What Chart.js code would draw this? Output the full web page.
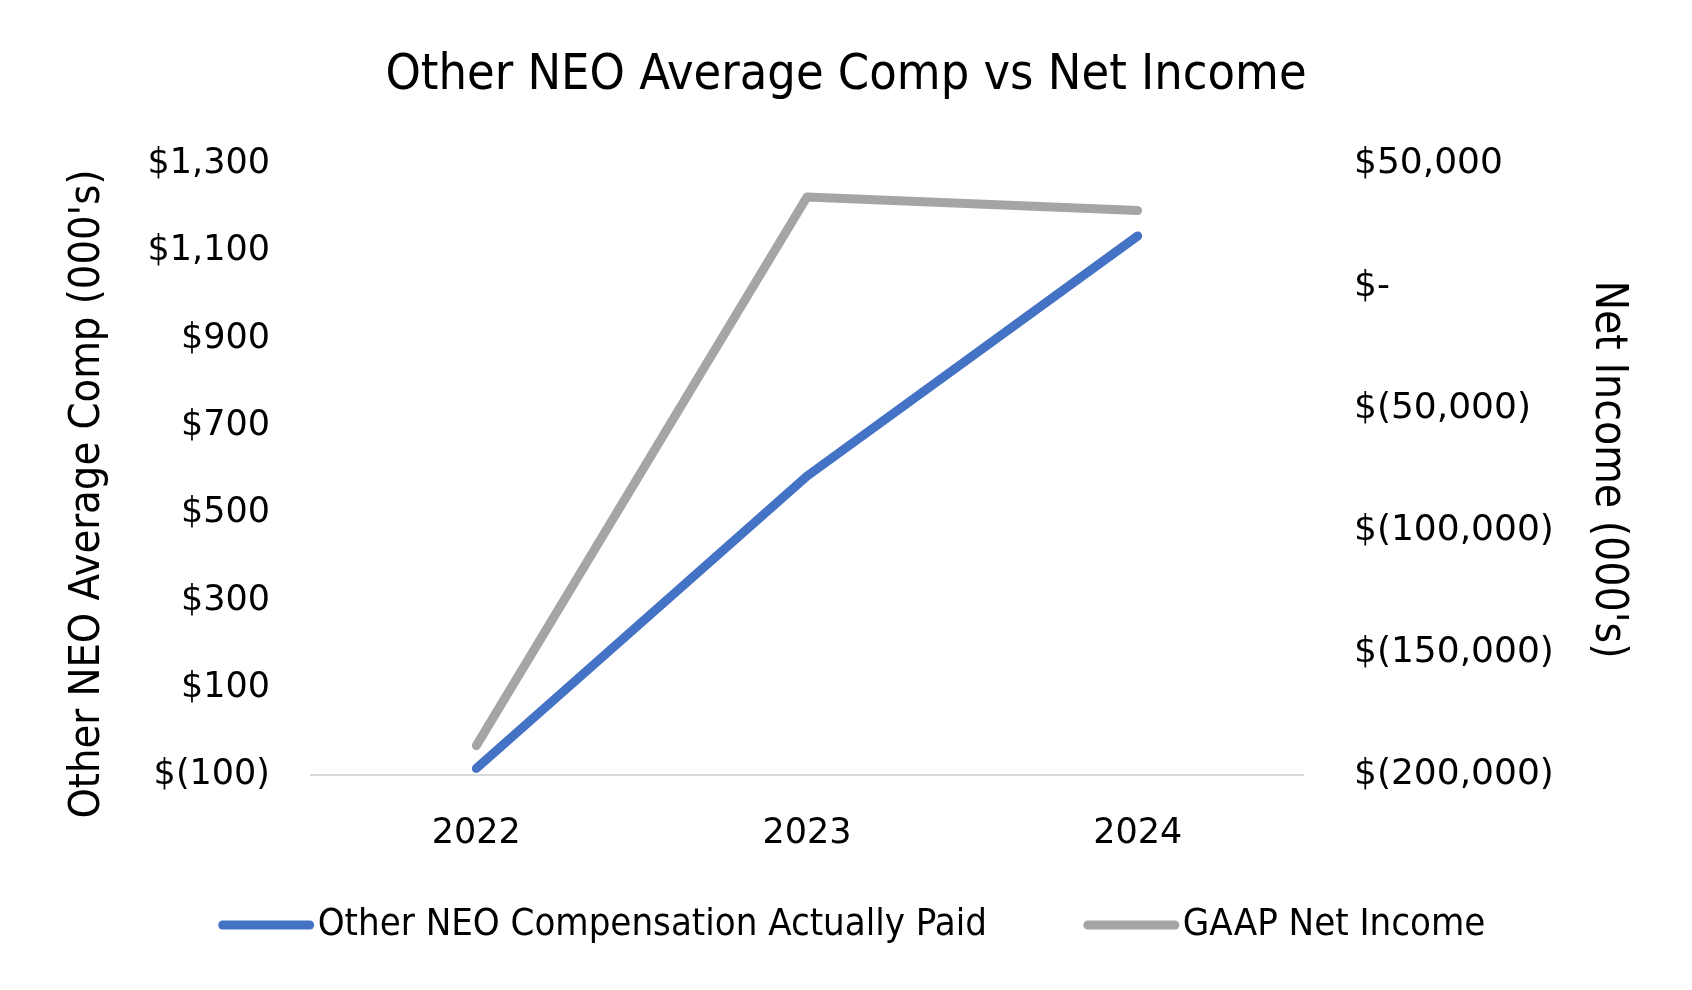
<!DOCTYPE html>
<html lang="en">
<head>
<meta charset="UTF-8">
<title>Other NEO Average Comp vs Net Income</title>
<script src="https://cdn.jsdelivr.net/npm/chart.js"></script>
<style>
  body { margin: 0; background: #fff; }
  #wrap { width: 1692px; height: 990px; }
</style>
</head>
<body>
<div id="wrap"><canvas id="grafico" width="1692" height="990"></canvas></div>
<script>
    // dados
    const anos = ['2022', '2023', '2024'];
    const compNeo = [-85, 585, 1135];
    const lucroGaap = [-188000, 36500, 31000];
    const nomesSeries = ['Other NEO Compensation Actually Paid', 'GAAP Net Income'];
    const coresSeries = ['#4472c4', '#a5a5a5'];

    const fonteEstreita = '"Liberation Sans Narrow", "DejaVu Sans Condensed", sans-serif';
    const fonteTicks = '"DejaVu Sans", sans-serif';

    function dinheiro(v) {
        if (v === 0) return '$-';
        const s = Math.abs(v).toLocaleString('en-US');
        return v < 0 ? '$(' + s + ')' : '$' + s;
    }

    // legenda desenhada à mão (linha + texto colados)
    const legendaLinha = {
        id: 'legendaLinha',
        afterDraw(chart) {
            const ctx = chart.ctx;
            const y = 925;
            const tamLinha = 95, gap = 4, entreItens = 97;
            ctx.save();
            ctx.font = '38px ' + fonteEstreita;
            const larguras = chart.data.datasets.map(d => ctx.measureText(d.label).width);
            let total = 0;
            larguras.forEach((w, i) => { total += tamLinha + gap + w + (i ? entreItens : 0); });
            let x = chart.width / 2 + 6 - total / 2;
            chart.data.datasets.forEach((d, i) => {
                ctx.strokeStyle = d.borderColor;
                ctx.lineWidth = 9;
                ctx.lineCap = 'round';
                ctx.beginPath();
                ctx.moveTo(x + 4, y);
                ctx.lineTo(x + tamLinha - 4, y);
                ctx.stroke();
                ctx.fillStyle = '#000';
                ctx.textBaseline = 'middle';
                ctx.textAlign = 'left';
                ctx.fillText(d.label, x + tamLinha + gap, y);
                x += tamLinha + gap + larguras[i] + entreItens;
            });
            ctx.restore();
        }
    };

    const ctx1 = document.getElementById('grafico').getContext('2d');
    new Chart(ctx1, {
        type: 'line',
        data: {
            labels: anos,
            datasets: [
                {
                    label: nomesSeries[0],
                    data: compNeo,
                    yAxisID: 'y',
                    borderColor: coresSeries[0],
                    backgroundColor: coresSeries[0],
                    borderWidth: 9,
                    borderCapStyle: 'round',
                    borderJoinStyle: 'round',
                    pointRadius: 0,
                    tension: 0
                },
                {
                    label: nomesSeries[1],
                    data: lucroGaap,
                    yAxisID: 'y1',
                    borderColor: coresSeries[1],
                    backgroundColor: coresSeries[1],
                    borderWidth: 9,
                    borderCapStyle: 'round',
                    borderJoinStyle: 'round',
                    pointRadius: 0,
                    tension: 0
                }
            ]
        },
        options: {
            responsive: false,
            animation: false,
            layout: { padding: { top: 0, bottom: 97, left: 0, right: 0 } },
            plugins: {
                legend: { display: false },
                tooltip: { enabled: false },
                title: {
                    display: true,
                    text: 'Other NEO Average Comp vs Net Income',
                    color: '#000',
                    font: { family: fonteEstreita, size: 50, weight: 'normal' },
                    padding: { top: 46, bottom: 58 }
                }
            },
            scales: {
                x: {
                    offset: true,
                    grid: { display: false, drawTicks: false },
                    border: { display: true, color: '#d9d9d9', width: 2 },
                    ticks: {
                        color: '#000',
                        padding: 38,
                        font: { family: fonteTicks, size: 35 }
                    }
                },
                y: {
                    position: 'left',
                    min: -100,
                    max: 1300,
                    grid: { display: false, drawTicks: false },
                    border: { display: false },
                    ticks: {
                        stepSize: 200,
                        color: '#000',
                        padding: 41,
                        font: { family: fonteTicks, size: 35 },
                        callback: v => dinheiro(v)
                    },
                    title: {
                        display: true,
                        // espaços no fim empurram o texto para baixo, como no original
                        text: "Other NEO Average Comp (000's)\u00a0\u00a0\u00a0\u00a0",
                        color: '#000',
                        font: { family: fonteEstreita, size: 43 },
                        padding: { top: 62, bottom: 0 }
                    },
                    afterFit(scale) { scale.width = 311; }
                },
                y1: {
                    position: 'right',
                    min: -200000,
                    max: 50000,
                    grid: { display: false, drawTicks: false },
                    border: { display: false },
                    ticks: {
                        stepSize: 50000,
                        color: '#000',
                        padding: 51,
                        font: { family: fonteTicks, size: 36 },
                        callback: v => dinheiro(v)
                    },
                    title: {
                        display: true,
                        text: "Net Income (000's)",
                        color: '#000',
                        font: { family: fonteEstreita, size: 44 },
                        padding: { top: 58, bottom: 0 }
                    },
                    afterFit(scale) { scale.width = 389; }
                }
            }
        },
        plugins: [legendaLinha]
    });
</script>
</body>
</html>
